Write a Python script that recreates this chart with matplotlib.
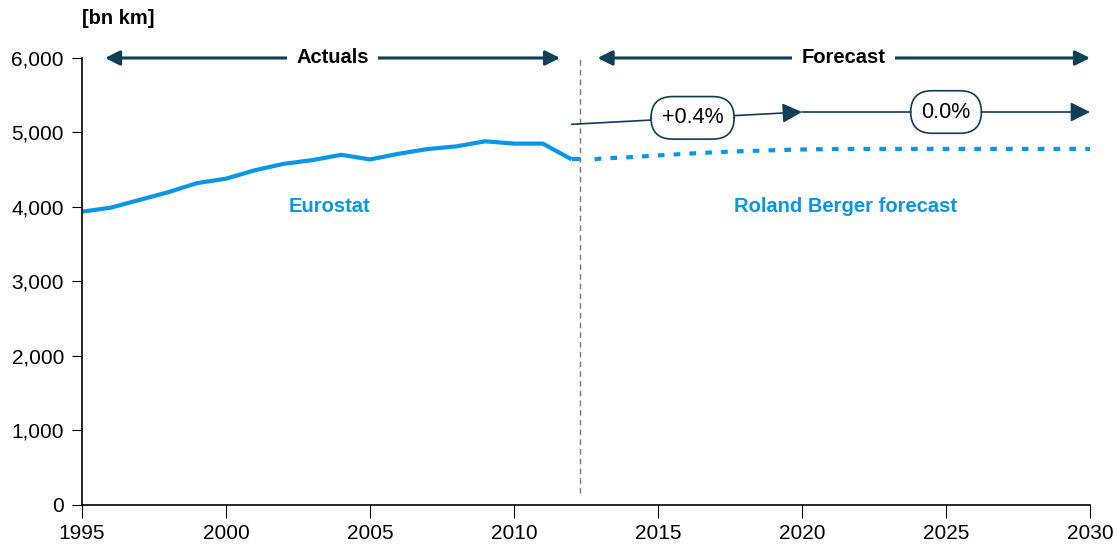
import matplotlib.pyplot as plt
from matplotlib.ticker import FuncFormatter

plt.rcParams['font.family'] = ['Liberation Sans Narrow', 'Liberation Sans', 'DejaVu Sans']

# dati
anni_storici = list(range(1995, 2013))
valori_storici = [3937, 3991, 4095, 4199, 4321, 4380, 4493, 4579, 4629, 4701,
                  4638, 4715, 4778, 4814, 4882, 4851, 4851, 4640]
anni_previsione = list(range(2012, 2031))
valori_previsione = [4640, 4650, 4668, 4692, 4715, 4735, 4750, 4762, 4772, 4778,
                     4780, 4780, 4780, 4780, 4780, 4780, 4780, 4780, 4780]
crescita_anni = [2012, 2020, 2030]
crescita_valori = [5110, 5275, 5275]
crescita_etichette = ["+0.4%", "0.0%"]

blu = "#0a96e8"
scuro = "#0d3f56"

fig = plt.figure(figsize=(11.18, 5.55), dpi=100)
ax = fig.add_axes([0.0733, 0.0901, 0.9017, 0.8054])

# storico (linea continua) e previsione (tratteggiata)
ax.plot(anni_storici, valori_storici, color=blu, linewidth=3, solid_capstyle='butt')
ax.plot([anni_storici[-1], 2012.3], [valori_storici[-1], valori_storici[-1]],
        color=blu, linewidth=3, solid_capstyle='butt')
ax.plot([anni_previsione[0] + 0.8] + anni_previsione[1:],
        [valori_previsione[0]] + valori_previsione[1:], color=blu, linewidth=3,
        linestyle=(0, (1.6, 2.2)))

ax.set_xlim(1995, 2030)
ax.set_ylim(0, 6000)
ax.set_xticks(range(1995, 2031, 5))
ax.set_yticks(range(0, 6001, 1000))
ax.yaxis.set_major_formatter(FuncFormatter(lambda v, p: f"{int(v):,}"))
ax.tick_params(axis='both', labelsize=15, direction='out', color='black')
ax.tick_params(axis='y', length=7, pad=6)
ax.tick_params(axis='x', length=9, pad=5)
for s in ['top', 'right']:
    ax.spines[s].set_visible(False)
ax.spines['left'].set_linewidth(1.2)
ax.spines['bottom'].set_linewidth(1.2)

# linea verticale tra storico e previsione
ax.axvline(2012.3, ymin=0.027, ymax=1, color='#777777', linestyle=(0, (4, 3)), linewidth=1)

# frecce Actuals / Forecast
for x0, x1, testo in [(1995.8, 2011.6, "Actuals"), (2012.9, 2030, "Forecast")]:
    ax.annotate("", xy=(x0, 6000), xytext=(x1, 6000),
                arrowprops=dict(arrowstyle='<|-|>', color=scuro, lw=2.2,
                                mutation_scale=22, shrinkA=0, shrinkB=0),
                annotation_clip=False)
    ax.text((x0 + x1) / 2, 6000, testo, ha='center', va='center', fontsize=14.5,
            fontweight='bold', color='black',
            bbox=dict(facecolor='white', edgecolor='none', pad=7), clip_on=False)

# frecce di crescita
for i in range(2):
    ax.annotate("", xy=(crescita_anni[i + 1], crescita_valori[i + 1]),
                xytext=(crescita_anni[i], crescita_valori[i]),
                arrowprops=dict(arrowstyle='-|>', color=scuro, lw=1.2,
                                mutation_scale=30, shrinkA=0, shrinkB=0))
posizioni = [2016.2, 2025.0]
for xp, et in zip(posizioni, crescita_etichette):
    if xp < crescita_anni[1]:
        t = (xp - crescita_anni[0]) / (crescita_anni[1] - crescita_anni[0])
        yp = crescita_valori[0] + t * (crescita_valori[1] - crescita_valori[0])
    else:
        yp = crescita_valori[2]
    ax.text(xp, yp, et, ha='center', va='center', fontsize=15.5, color='black',
            bbox=dict(boxstyle='round,pad=0.5,rounding_size=1.0', facecolor='white',
                      edgecolor=scuro, linewidth=1.2))

ax.text(2003.6, 4000, "Eurostat", ha='center', va='center', fontsize=14.5,
        fontweight='bold', color=blu)
ax.text(2021.5, 4000, "Roland Berger forecast", ha='center', va='center', fontsize=14.5,
        fontweight='bold', color=blu)

fig.text(82 / 1118, 1 - 18 / 555, "[bn km]", ha='left', va='center', fontsize=14.5,
         fontweight='bold')

fig.savefig("out.png", dpi=100)
